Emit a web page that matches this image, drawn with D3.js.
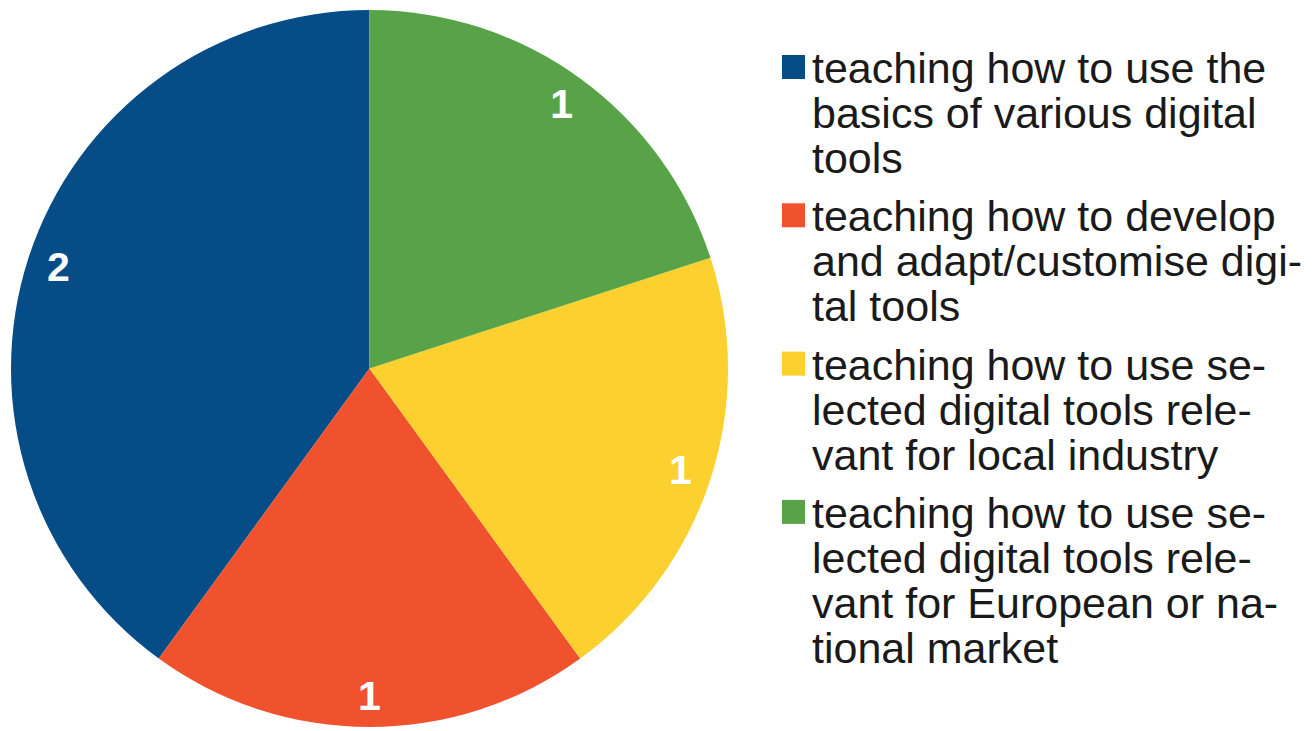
<!DOCTYPE html>
<html><head><meta charset="utf-8">
<script src="https://cdn.jsdelivr.net/npm/d3@7"></script>
<style>html,body{margin:0;padding:0;background:#fff;}svg{display:block;}</style>
</head><body>
<svg id="chart" width="1313" height="731"></svg>
<script>
const categories = [
  "teaching how to use the basics of various digital tools",
  "teaching how to develop and adapt/customise digital tools",
  "teaching how to use selected digital tools relevant for local industry",
  "teaching how to use selected digital tools relevant for European or national market"
];
const values = [2, 1, 1, 1];
const legendLines = [
  ["teaching how to use the", "basics of various digital", "tools"],
  ["teaching how to develop", "and adapt/customise digi-", "tal tools"],
  ["teaching how to use se-", "lected digital tools rele-", "vant for local industry"],
  ["teaching how to use se-", "lected digital tools rele-", "vant for European or na-", "tional market"]
];
const colors = ["#064c87", "#f0522e", "#fcd02f", "#58a347"];
const FONT = "'Liberation Sans', Arimo, Arial, sans-serif";

const svg = d3.select("#chart");
const cx = 369.5, cy = 368.5, R = 358.5, labelR = 327;

const pie = d3.pie().sort(null).value(d => d).startAngle(0).endAngle(-2 * Math.PI);
const arcs = pie(values);
const arc = d3.arc().innerRadius(0).outerRadius(R);
const labelArc = d3.arc().innerRadius(labelR).outerRadius(labelR);

const g = svg.append("g").attr("transform", `translate(${cx},${cy})`);
g.selectAll("path").data(arcs).join("path")
  .attr("d", arc).attr("fill", (d, i) => colors[i]);

g.selectAll("text").data(arcs).join("text")
  .attr("transform", d => `translate(${labelArc.centroid(d)})`)
  .attr("text-anchor", "middle")
  .attr("dominant-baseline", "central")
  .attr("fill", "#fff")
  .style("font-family", FONT)
  .attr("font-weight", "bold")
  .attr("font-size", 41)
  .text(d => d.data);

// Legend
const lineH = 45, itemGap = 13.3;
const leg = svg.append("g");
let y = 83;
legendLines.forEach((lines, i) => {
  leg.append("rect").attr("x", 782).attr("y", y - 28).attr("width", 23).attr("height", 24)
    .attr("fill", colors[i]);
  lines.forEach((t, j) => {
    leg.append("text").attr("x", 812).attr("y", y + j * lineH)
      .style("font-family", FONT)
      .attr("font-size", 43).attr("fill", "#1a1a1a")
      .text(t);
  });
  y += lines.length * lineH + itemGap;
});
</script>
</body></html>
